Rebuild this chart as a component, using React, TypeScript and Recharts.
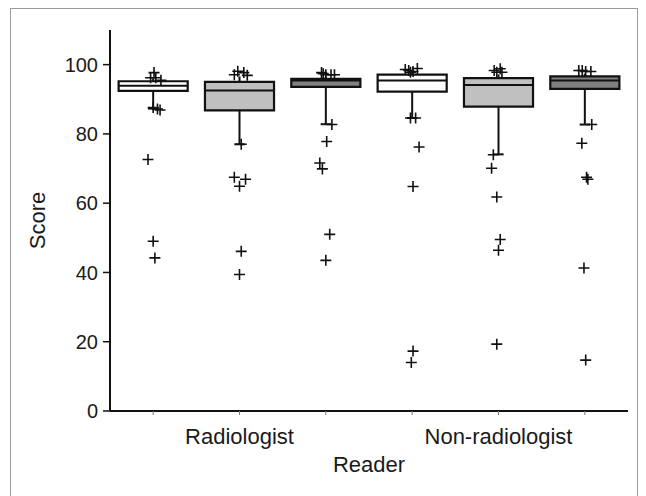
import { ComposedChart, XAxis, YAxis, Scatter, ReferenceArea, ReferenceLine, Label } from "recharts";

const READERS = ["Radiologist", "Non-radiologist"];
const BOX_FILLS = ["#ffffff", "#c0c0c0", "#808080"];
const SCORE_TICKS = [0, 20, 40, 60, 80, 100];

// one entry per box, left to right (3 boxes per reader group)
const q1 = [92.4, 86.8, 93.6, 92.2, 87.9, 93.0];
const median = [93.9, 92.5, 95.4, 95.4, 94.1, 95.4];
const q3 = [95.2, 95.0, 95.9, 97.1, 96.1, 96.6];
const whiskerLow = [87.3, 77.0, 82.8, 84.6, 74.1, 82.7];
const whiskerHigh = [96.0, 96.6, 96.6, 97.6, 97.2, 97.4];

const outliers = [
  [97.7, 96.2, 96.2, 95.5, 87.6, 87.2, 86.9, 72.6, 49.0, 44.2],
  [98.1, 97.7, 97.1, 96.9, 77.0, 67.5, 66.9, 64.9, 46.1, 39.4],
  [97.7, 97.4, 97.1, 97.1, 97.1, 82.7, 77.8, 71.6, 69.9, 51.0, 43.5],
  [98.6, 98.3, 98.0, 98.9, 97.8, 84.6, 84.6, 76.2, 64.8, 17.3, 14.0],
  [98.3, 98.8, 97.8, 97.8, 74.0, 70.1, 61.8, 49.5, 46.4, 19.3],
  [98.3, 98.3, 98.0, 98.0, 82.7, 77.3, 67.5, 66.9, 41.3, 14.7]
];
// small horizontal spread of the outlier marks (in box units)
const jitter = [
  [0.01, -0.03, 0.03, 0.09, 0.0, 0.05, 0.08, -0.06, 0.0, 0.02],
  [-0.02, 0.05, -0.06, 0.09, 0.02, -0.06, 0.07, 0.0, 0.02, 0.0],
  [-0.05, -0.03, 0.0, 0.06, 0.1, 0.07, 0.01, -0.07, -0.04, 0.045, 0.0],
  [-0.08, -0.04, 0.01, 0.06, -0.02, -0.02, 0.04, 0.08, 0.01, 0.01, -0.01],
  [-0.05, 0.02, 0.04, -0.02, -0.06, -0.08, -0.02, 0.02, 0.0, -0.02],
  [-0.07, -0.03, 0.01, 0.07, 0.08, -0.035, 0.02, 0.035, -0.01, 0.01]
];

const BOX_HALF = 0.4;
const CAP_HALF = 0.06;
const INK = "#111111";

const outlierData = outliers.flatMap((vals, i) =>
  vals.map((v, j) => ({ x: i + 1 + jitter[i][j], y: v }))
);

const boxTicks = q1.map((_, i) => i + 1);

function readerLabel(v: number) {
  // reader names sit under the middle box of each group of three
  const g = (v - 2) / 3;
  return Number.isInteger(g) && READERS[g] ? READERS[g] : "";
}

function Cross(props: any) {
  const { cx, cy } = props;
  if (cx == null || cy == null) return null;
  return (
    <path
      d={`M${cx - 5.5},${cy}h11M${cx},${cy - 5.5}v11`}
      stroke={INK}
      strokeWidth={1.6}
      fill="none"
    />
  );
}

export default function App() {
  return (
    <div
      style={{
        position: "fixed",
        left: 0,
        top: 0,
        width: 646,
        height: 496,
        background: "#fff",
        fontFamily: "'Liberation Sans', Arial, sans-serif",
        overflow: "hidden"
      }}
    >
      <div
        style={{
          position: "absolute",
          left: 10,
          top: 8,
          width: 628,
          height: 520,
          boxSizing: "border-box",
          border: "1px solid #9a9a9a"
        }}
      />
      <div style={{ position: "absolute", left: 0, top: 0 }}>
        <ComposedChart
          width={646}
          height={496}
          margin={{ top: 30, right: 18, left: 0, bottom: 15 }}
        >
          <XAxis
            type="number"
            dataKey="x"
            domain={[0.5, 6.5]}
            ticks={boxTicks}
            tickFormatter={readerLabel}
            interval={0}
            height={70}
            tickSize={4}
            tickMargin={13}
            axisLine={{ stroke: INK, strokeWidth: 2 }}
            tickLine={{ stroke: "#777" }}
            tick={{ fill: "#1a1a1a", fontSize: 22 }}
          >
            <Label value="Reader" position="insideBottom" offset={9} fill="#1a1a1a" fontSize={22} />
          </XAxis>
          <YAxis
            type="number"
            dataKey="y"
            domain={[0, 110]}
            ticks={SCORE_TICKS}
            width={110}
            tickSize={7}
            tickMargin={5}
            axisLine={{ stroke: INK, strokeWidth: 2 }}
            tickLine={{ stroke: INK, strokeWidth: 1.5 }}
            tick={{ fill: "#1a1a1a", fontSize: 20 }}
          >
            <Label
              value="Score"
              angle={-90}
              position="insideLeft"
              offset={37}
              fill="#1a1a1a"
              fontSize={22}
              style={{ textAnchor: "middle" }}
            />
          </YAxis>

          {q1.map((_, i) => (
            <ReferenceLine
              key={`wl${i}`}
              segment={[
                { x: i + 1, y: q1[i] },
                { x: i + 1, y: whiskerLow[i] }
              ]}
              stroke={INK}
              strokeWidth={2}
            />
          ))}
          {q1.map((_, i) => (
            <ReferenceLine
              key={`wh${i}`}
              segment={[
                { x: i + 1, y: q3[i] },
                { x: i + 1, y: whiskerHigh[i] }
              ]}
              stroke={INK}
              strokeWidth={2}
            />
          ))}
          {q1.map((_, i) => (
            <ReferenceLine
              key={`cap${i}`}
              segment={[
                { x: i + 1 - CAP_HALF, y: whiskerLow[i] },
                { x: i + 1 + CAP_HALF, y: whiskerLow[i] }
              ]}
              stroke={INK}
              strokeWidth={2}
            />
          ))}
          {q1.map((_, i) => (
            <ReferenceArea
              key={`box${i}`}
              x1={i + 1 - BOX_HALF}
              x2={i + 1 + BOX_HALF}
              y1={q1[i]}
              y2={q3[i]}
              fill={BOX_FILLS[i % 3]}
              fillOpacity={1}
              stroke={INK}
              strokeWidth={2.2}
            />
          ))}
          {q1.map((_, i) => (
            <ReferenceLine
              key={`med${i}`}
              segment={[
                { x: i + 1 - BOX_HALF, y: median[i] },
                { x: i + 1 + BOX_HALF, y: median[i] }
              ]}
              stroke={INK}
              strokeWidth={2}
            />
          ))}

          <Scatter data={outlierData} shape={<Cross />} isAnimationActive={false} />
        </ComposedChart>
      </div>
    </div>
  );
}
